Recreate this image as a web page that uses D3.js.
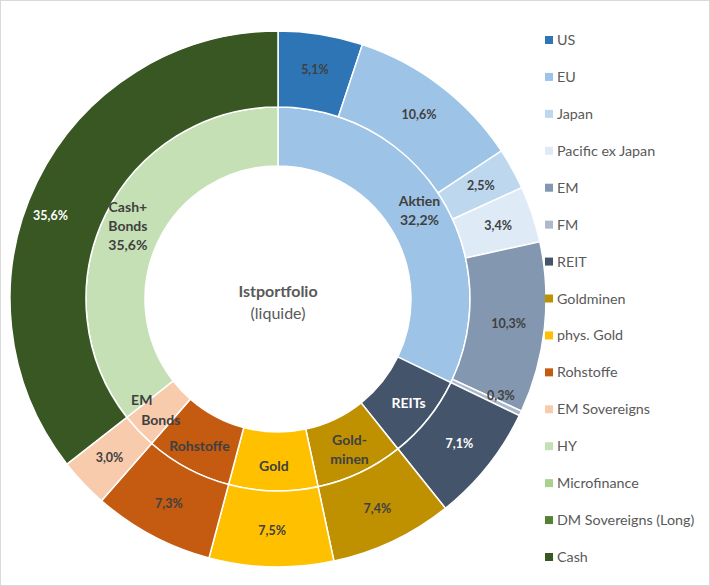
<!DOCTYPE html>
<html><head><meta charset="utf-8">
<script src="https://cdn.jsdelivr.net/npm/d3@7"></script>
<style>body{margin:0;background:#fff}svg{display:block}</style>
</head><body>
<svg id="chart" width="710" height="586"></svg>
<script>
// Outer ring (sub-categories, also legend)
const outerNames = ["US","EU","Japan","Pacific ex Japan","EM","FM","REIT","Goldminen","phys. Gold","Rohstoffe","EM Sovereigns","HY","Microfinance","DM Sovereigns (Long)","Cash"];
const outerValues = [5.1,10.6,2.5,3.4,10.3,0.3,7.1,7.4,7.5,7.3,3.0,0,0,0,35.6];
const outerLabels = ["5,1%","10,6%","2,5%","3,4%","10,3%","0,3%","7,1%","7,4%","7,5%","7,3%","3,0%","","","","35,6%"];
const outerColors = ["#2E75B6","#9DC3E6","#BDD7EE","#DEEBF7","#8497B0","#ADB9CA","#44546A","#BF9000","#FFC000","#C55A11","#F8CBAD","#C5E0B4","#A9D18E","#548235","#385723"];
const outerTextColors = ["#404040","#404040","#404040","#404040","#404040","#404040","#ffffff","#404040","#404040","#404040","#404040","#404040","#404040","#404040","#ffffff"];

// Inner ring (groups)
const innerNames = ["Aktien","REITs","Goldminen","Gold","Rohstoffe","EM Bonds","Cash+Bonds"];
const innerValues = [32.2,7.1,7.4,7.5,7.3,3.0,35.6];
const innerLabels = [["Aktien","32,2%"],["REITs"],["Gold-","minen"],["Gold"],["Rohstoffe"],["EM","Bonds"],["Cash+","Bonds","35,6%"]];
const innerColors = ["#9DC3E6","#44546A","#BF9000","#FFC000","#C55A11","#F8CBAD","#C5E0B4"];
const innerTextColors = ["#404040","#ffffff","#404040","#404040","#404040","#404040","#404040"];

const centerTitle = "Istportfolio";
const centerSub = "(liquide)";

const svg = d3.select("#chart");
svg.append("rect").attr("x",0.5).attr("y",0.5).attr("width",709).attr("height",585)
  .attr("fill","#fff").attr("stroke","#d9d9d9");

const cx = 278, cy = 299;
const rHole = 133, rMid = 192, rOuter = 268;
const g = svg.append("g").attr("transform",`translate(${cx},${cy})`);

const pie = d3.pie().sort(null).value(d => d.v);
const font = "Lato, 'Open Sans', sans-serif";

// inner ring
const innerData = pie(innerValues.map((v,i)=>({v,i})));
const arcIn = d3.arc().innerRadius(rHole).outerRadius(rMid);
g.selectAll("path.in").data(innerData).join("path").attr("class","in")
  .attr("d",arcIn).attr("fill",d=>innerColors[d.data.i])
  .attr("stroke","#fff").attr("stroke-width",1.5);

// outer ring
const outerData = pie(outerValues.map((v,i)=>({v,i})));
const arcOut = d3.arc().innerRadius(rMid).outerRadius(rOuter);
g.selectAll("path.out").data(outerData.filter(d=>d.data.v>0)).join("path").attr("class","out")
  .attr("d",arcOut).attr("fill",d=>outerColors[d.data.i])
  .attr("stroke","#fff").attr("stroke-width",1.5);

// label nudges (manual placement as in the original)
const innerLineNudge = {5: [[-15,-4],[4,-3]]};
const outerNudge = {5: [13,-2], 14: [-19,19]};

// inner labels
const arcInLab = d3.arc().innerRadius(167*2-rMid).outerRadius(rMid); // centroid at r=167
const lh = 19;
innerData.forEach(d=>{
  const [x,y] = arcInLab.centroid(d);
  const lines = innerLabels[d.data.i];
  const nud = innerLineNudge[d.data.i] || [];
  const t = g.append("text").attr("text-anchor","middle")
    .attr("font-family",font).attr("font-weight","bold").attr("font-size",14)
    .attr("fill",innerTextColors[d.data.i]);
  lines.forEach((ln,k)=>{
    const [nx,ny] = nud[k] || [0,0];
    t.append("tspan").attr("x",x+nx).attr("y",y+(k-(lines.length-1)/2)*lh+5+ny).text(ln);
  });
});

// outer labels
const arcOutLab = d3.arc().innerRadius(192).outerRadius(272);
outerData.forEach(d=>{
  if(!outerLabels[d.data.i]) return;
  const [x,y] = arcOutLab.centroid(d);
  const [nx,ny] = outerNudge[d.data.i] || [0,0];
  g.append("text").attr("x",x+nx).attr("y",y+4+ny).attr("text-anchor","middle")
    .attr("font-family",font).attr("font-weight","bold").attr("font-size",12.5)
    .attr("fill",outerTextColors[d.data.i]).text(outerLabels[d.data.i]);
});

// centre
g.append("text").attr("x",0).attr("y",-2).attr("text-anchor","middle")
  .attr("font-family",font).attr("font-weight","bold").attr("font-size",16)
  .attr("fill","#595959").text(centerTitle);
g.append("text").attr("x",0).attr("y",20).attr("text-anchor","middle")
  .attr("font-family",font).attr("font-size",16)
  .attr("fill","#595959").text(centerSub);

// legend
const ly = d3.scalePoint().domain(outerNames).range([40,557]);
const leg = svg.append("g");
outerNames.forEach((n,i)=>{
  const y = ly(n);
  leg.append("rect").attr("x",545).attr("y",y-4).attr("width",8).attr("height",8).attr("fill",outerColors[i]);
  leg.append("text").attr("x",557).attr("y",y+5).attr("font-family",font).attr("font-size",14.3)
    .attr("fill","#595959").text(n);
});
</script>
</body></html>
